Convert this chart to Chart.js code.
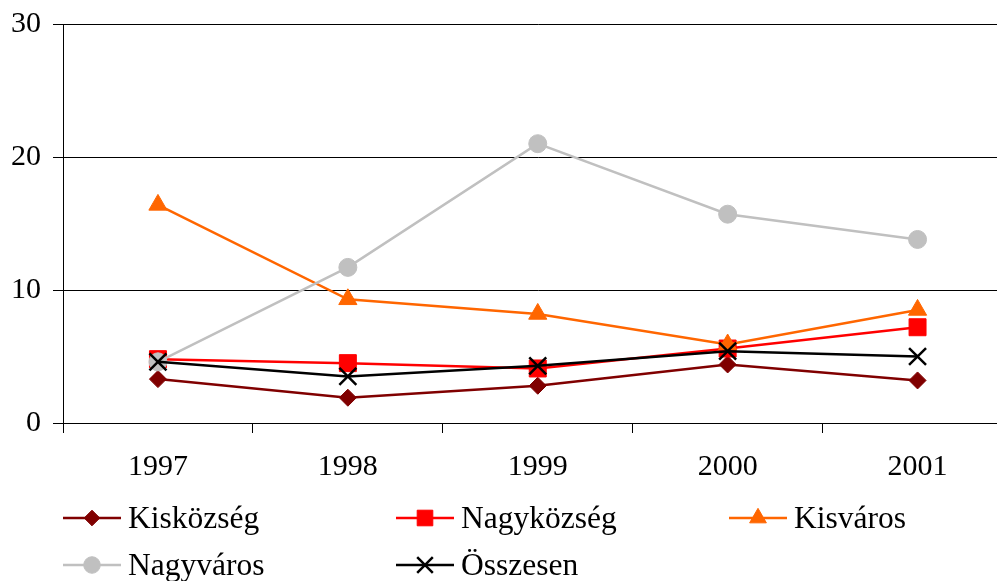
<!DOCTYPE html>
<html>
<head>
<meta charset="utf-8">
<script src="https://cdn.jsdelivr.net/npm/chart.js@4"></script>
<style>
  html, body { margin: 0; padding: 0; background: #fff; overflow: hidden; }
  #wrap { position: absolute; left: 0; top: 0; width: 1027px; height: 581px; }
  #c { display: block; width: 1027px; height: 581px; max-width: none; }
</style>
</head>
<body>
<div id="wrap"><canvas id="c" width="1027" height="581"></canvas></div>
<script>
// Years on the category axis
const years = ['1997', '1998', '1999', '2000', '2001'];

// Series values
const kiskozseg  = [3.3, 1.9, 2.8, 4.4, 3.2];
const nagykozseg = [4.8, 4.5, 4.1, 5.6, 7.2];
const kisvaros   = [16.4, 9.3, 8.2, 5.9, 8.5];
const nagyvaros  = [4.6, 11.7, 21.0, 15.7, 13.8];
const osszesen   = [4.6, 3.5, 4.3, 5.4, 5.0];

// Value axis ticks
const yTicks = [0, 10, 20, 30];

const FONT = '"Liberation Serif", "Times New Roman", serif';

function series(label, data, color, style, radius, order, extra) {
  return Object.assign({
    label, data, order,
    borderColor: color,
    backgroundColor: color,
    borderWidth: 2.5,
    pointStyle: style,
    pointRadius: radius,
    pointHoverRadius: radius,
    pointBackgroundColor: color,
    pointBorderColor: color,
    pointBorderWidth: 1,
    tension: 0,
    clip: false
  }, extra || {});
}

const datasets = [
  series('Kisközség', kiskozseg, '#800000', 'rectRot', 8.5, 5),
  series('Nagyközség', nagykozseg, '#FF0000', 'rect', 12, 4),
  series('Kisváros', kisvaros, '#FF6600', 'triangle', 10.5, 3),
  series('Nagyváros', nagyvaros, '#C0C0C0', 'circle', 9, 2),
  series('Összesen', osszesen, '#000000', 'crossRot', 12, 1, { pointBorderWidth: 2.5 })
];

// Legend laid out in a three-column grid below the axis
const legendGrid = {
  id: 'legendGrid',
  afterDraw(chart) {
    const ctx = chart.ctx;
    const cols = [63, 396, 729];
    const rows = [518, 565];
    const lineLen = 58;
    ctx.save();
    chart.data.datasets.forEach((ds, i) => {
      const x = cols[i % 3];
      const y = rows[Math.floor(i / 3)];
      ctx.strokeStyle = ds.borderColor;
      ctx.lineWidth = ds.borderWidth;
      ctx.beginPath();
      ctx.moveTo(x, y);
      ctx.lineTo(x + lineLen, y);
      ctx.stroke();
      ctx.fillStyle = ds.pointBackgroundColor;
      ctx.strokeStyle = ds.pointBorderColor;
      ctx.lineWidth = ds.pointBorderWidth;
      Chart.helpers.drawPoint(ctx, {
        pointStyle: ds.pointStyle,
        radius: ds.pointRadius * 0.92,
        rotation: 0,
        borderWidth: ds.pointBorderWidth
      }, x + lineLen / 2, y);
      ctx.fillStyle = '#000';
      ctx.font = '31.5px ' + FONT;
      ctx.textAlign = 'left';
      ctx.textBaseline = 'alphabetic';
      ctx.fillText(ds.label, x + lineLen + 7, y + 10);
    });
    ctx.restore();
  }
};

new Chart(document.getElementById('c'), {
  type: 'line',
  data: { labels: years, datasets },
  plugins: [legendGrid],
  options: {
    responsive: false,
    maintainAspectRatio: false,
    animation: false,
    events: [],
    layout: { padding: { top: 24, left: 0, right: 0, bottom: 0 } },
    plugins: {
      legend: { display: false },
      tooltip: { enabled: false }
    },
    scales: {
      x: {
        type: 'category',
        offset: true,
        afterFit(scale) {
          scale.height = 158;
          scale.paddingLeft = 0;
          scale.paddingRight = 0;
        },
        border: { display: true, color: '#000', width: 1 },
        grid: {
          offset: true,
          drawOnChartArea: false,
          drawTicks: true,
          tickLength: 10,
          color: '#000',
          lineWidth: 1
        },
        ticks: {
          color: '#000',
          font: { family: FONT, size: 30 },
          padding: 16,
          maxRotation: 0,
          autoSkip: false
        }
      },
      y: {
        min: 0,
        max: 30,
        afterFit(scale) {
          scale.width = 63;
          scale.paddingTop = 0;
          scale.paddingBottom = 0;
        },
        afterBuildTicks(scale) { scale.ticks = yTicks.map(v => ({ value: v })); },
        border: { display: true, color: '#000', width: 1 },
        grid: {
          drawTicks: true,
          tickLength: 10,
          color: '#000',
          lineWidth: 1
        },
        ticks: {
          color: '#000',
          font: { family: FONT, size: 30 },
          padding: 12
        }
      }
    }
  }
});
</script>
</body>
</html>
